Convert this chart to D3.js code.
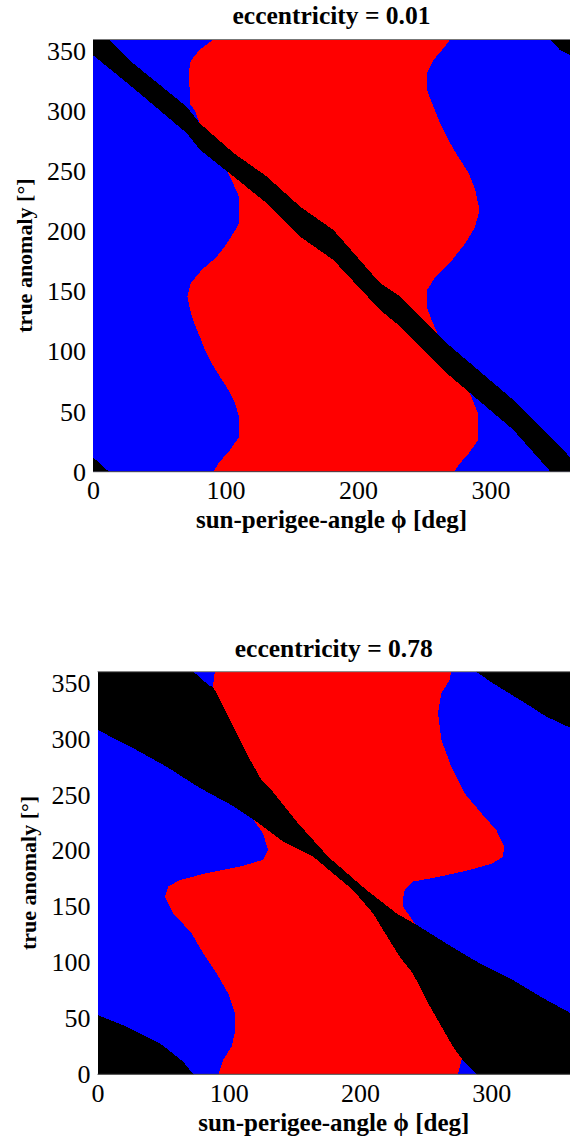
<!DOCTYPE html>
<html>
<head>
<meta charset="utf-8">
<script src="https://cdn.jsdelivr.net/npm/d3@7"></script>
<style>
  html, body { margin: 0; padding: 0; background: #fff; }
  svg { display: block; }
  svg text { font-family: "Liberation Serif", "Times New Roman", "DejaVu Serif", serif !important; fill: #000; }
</style>
</head>
<body>
<svg id="chart" width="570" height="1139"></svg>
<script>
// ---------------- DATA ----------------
const xTicks = [0, 100, 200, 300];
const yTicks = [0, 50, 100, 150, 200, 250, 300, 350];
const xLabel = "sun-perigee-angle \u03D5 [deg]";
const yLabel = "true anomaly [\u00B0]";

// Panel 1 : eccentricity = 0.01
const p1Title = "eccentricity = 0.01";
const p1RedLeftNu   = [0, 7, 18, 29, 46, 57, 68, 79, 90, 101, 112, 124, 135, 146, 157, 168, 179, 190, 201, 207, 229, 246, 258, 270, 285, 301, 306, 335, 342, 351, 356, 360];
const p1RedLeftPhi  = [91, 94.6, 103.4, 110.2, 110.2, 107.2, 102.2, 95.9, 89.6, 84.6, 80.8, 76.3, 73.2, 71.2, 73.7, 82, 93.4, 101, 107.2, 110.2, 110.2, 103.4, 97, 90, 82, 77, 73, 72.7, 73.7, 80, 86, 91];
const p1RedRightNu  = [0, 7, 15, 26, 49, 65, 80, 95, 110, 126, 137, 151, 162, 176, 190, 204, 218, 235, 249, 262, 276, 290, 304, 318, 332, 343, 351, 360];
const p1RedRightPhi = [272.6, 277, 283.4, 290.4, 290.4, 284.6, 278, 270, 262, 255.7, 252, 252, 258.2, 270.8, 280.9, 288.4, 291.7, 288.4, 283.4, 275.8, 268.3, 262, 257, 252, 252, 257, 263.3, 269.5];
const p1BandUpperPhi = [0, 12, 30.5, 70.7, 80.8, 106, 131, 156.3, 181.4, 216.7, 231.8, 267, 317.3, 352.6, 360];
const p1BandUpperNu  = [372, 360, 340, 304, 290, 265.5, 246, 220.8, 201.4, 157, 146, 107, 59.7, 21, 12];
const p1BandLowerPhi = [0, 30.5, 70.7, 80.8, 106, 131, 156.3, 181.4, 216.7, 231.8, 267, 317.3, 352.6, 360];
const p1BandLowerNu  = [347, 319.5, 282, 268, 246, 223.7, 195.8, 176.4, 134.7, 121, 82, 34.8, -9, -13];

// Panel 2 : eccentricity = 0.78
const p2Title = "eccentricity = 0.78";
const p2RedLeftNu   = [0, 12.8, 24.7, 36.7, 54.6, 72.5, 90.3, 108.2, 126.1, 144, 158.9, 167.8, 173.8, 179.8, 185.7, 191.7, 200.6, 215.6, 228, 250, 263, 287, 311, 334.8, 346.7, 360];
const p2RedLeftPhi  = [92, 95.7, 102.1, 104.6, 104.6, 99.5, 90.7, 80.5, 71.7, 57.7, 51.4, 53.9, 62.8, 83.1, 108.4, 126, 130, 126, 118.6, 122, 120, 110, 100, 92, 88, 89.4];
const p2RedRightNu  = [0, 14, 40, 80, 120, 138, 150, 156, 164.8, 172.3, 176.7, 182.7, 188.7, 194.6, 203.6, 218.5, 233.5, 251.3, 275, 299, 323, 340.8, 352.7, 360];
const p2RedRightPhi = [274.6, 277.5, 285, 275, 250, 240, 232.7, 232.7, 234, 240.3, 260.7, 283.5, 301.2, 308.8, 310, 303.8, 292.4, 279.7, 269.6, 262, 259.4, 262, 268.3, 269.5];
const p2BandUpperPhi = [0, 22.2, 47.6, 65.3, 73, 85.6, 88, 93.2, 103.3, 113.5, 125, 132.6, 152.8, 175.7, 204.9, 227.7, 245.4, 265.7, 291, 316.4, 341.9, 360];
const p2BandUpperNu  = [413, 402.6, 387.7, 371.3, 360, 347, 346.7, 334.8, 311, 287, 263, 254, 224.5, 194.6, 164.8, 144, 132, 117, 99.3, 84.3, 66.5, 55];
const p2BandLowerPhi = [0, 27.2, 52.7, 78, 103.3, 118.6, 126.2, 141.4, 164.3, 194.7, 209.9, 215, 230.2, 240.3, 250.5, 260.7, 270.8, 277.2, 288.6, 301.2, 324, 341.9, 360];
const p2BandLowerNu  = [308, 291.6, 275, 256, 240, 228, 221.5, 208, 194.6, 164.8, 144, 134, 105.2, 90.3, 66.5, 45.6, 24.7, 14.3, 0, -10.3, -26.7, -40.1, -50];

// ---------------- LAYOUT ----------------
const FONT = '"Liberation Serif", "Times New Roman", "DejaVu Serif", serif';
const panels = [
  { id: "p1", title: p1Title, left: 93, right: 570, top: 39.5, bottom: 471.7,
    titleY: 24, xLabY: 528, yLabX: 32,
    redLeftNu: p1RedLeftNu, redLeftPhi: p1RedLeftPhi, redRightNu: p1RedRightNu, redRightPhi: p1RedRightPhi,
    bUpPhi: p1BandUpperPhi, bUpNu: p1BandUpperNu, bLoPhi: p1BandLowerPhi, bLoNu: p1BandLowerNu },
  { id: "p2", title: p2Title, left: 97.5, right: 570, top: 671.7, bottom: 1074.3,
    titleY: 657, xLabY: 1131, yLabX: 36,
    redLeftNu: p2RedLeftNu, redLeftPhi: p2RedLeftPhi, redRightNu: p2RedRightNu, redRightPhi: p2RedRightPhi,
    bUpPhi: p2BandUpperPhi, bUpNu: p2BandUpperNu, bLoPhi: p2BandLowerPhi, bLoNu: p2BandLowerNu }
];

const svg = d3.select("#chart");
const defs = svg.append("defs");

panels.forEach(p => {
  const x = d3.scaleLinear().domain([0, 360]).range([p.left, p.right]);
  const y = d3.scaleLinear().domain([0, 360]).range([p.bottom, p.top]);
  const g = svg.append("g").attr("font-family", FONT);

  defs.append("clipPath").attr("id", "clip-" + p.id)
    .append("rect")
    .attr("x", x(0)).attr("y", y(360))
    .attr("width", x(360) - x(0)).attr("height", y(0) - y(360));

  const plot = g.append("g").attr("clip-path", "url(#clip-" + p.id + ")")
    .attr("shape-rendering", "crispEdges");

  plot.append("rect")
    .attr("x", x(0)).attr("y", y(360))
    .attr("width", x(360) - x(0)).attr("height", y(0) - y(360))
    .attr("fill", "#0000ff");

  const leftPts = p.redLeftNu.map((n, i) => [p.redLeftPhi[i], n]);
  const rightPts = p.redRightNu.map((n, i) => [p.redRightPhi[i], n]).reverse();
  const line = d3.line().x(d => x(d[0])).y(d => y(d[1]));
  plot.append("path")
    .attr("d", line(leftPts.concat(rightPts)) + "Z")
    .attr("fill", "#ff0000");

  const up = p.bUpPhi.map((ph, i) => [ph, p.bUpNu[i]]);
  const lo = p.bLoPhi.map((ph, i) => [ph, p.bLoNu[i]]).reverse();
  [-360, 0, 360].forEach(off => {
    const ln = d3.line().x(d => x(d[0])).y(d => y(d[1] + off));
    plot.append("path")
      .attr("d", ln(up.concat(lo)) + "Z")
      .attr("fill", "#000000");
  });

  g.append("line").attr("x1", x(0)).attr("x2", x(360)).attr("y1", y(360)).attr("y2", y(360))
    .attr("stroke", "#777").attr("stroke-width", 1);
  g.append("line").attr("x1", x(0)).attr("x2", x(360)).attr("y1", y(0)).attr("y2", y(0))
    .attr("stroke", "#444").attr("stroke-width", 1);

  const ax = d3.axisBottom(x).tickValues(xTicks).tickSize(0).tickPadding(9).tickFormat(d3.format("d"));
  const ay = d3.axisLeft(y).tickValues(yTicks).tickSize(0).tickPadding(7).tickFormat(d3.format("d"));
  const gx = g.append("g").attr("transform", `translate(0,${y(0)})`).call(ax);
  const gy = g.append("g").attr("transform", `translate(${x(0)},0)`).call(ay);
  [gx, gy].forEach(a => {
    a.attr("font-family", FONT).attr("font-size", 26);
    a.select(".domain").remove();
    a.selectAll("text").attr("fill", "#000");
  });

  g.append("text").attr("x", (x(0) + x(360)) / 2).attr("y", p.titleY)
    .attr("text-anchor", "middle").attr("font-size", 25.5).attr("font-weight", "bold")
    .text(p.title);
  g.append("text").attr("x", (x(0) + x(360)) / 2).attr("y", p.xLabY)
    .attr("text-anchor", "middle").attr("font-size", 25).attr("font-weight", "bold")
    .text(xLabel);
  g.append("text")
    .attr("transform", `translate(${p.yLabX},${(y(0) + y(360)) / 2}) rotate(-90)`)
    .attr("text-anchor", "middle").attr("font-size", 22).attr("font-weight", "bold")
    .text(yLabel);
});
</script>
</body>
</html>
